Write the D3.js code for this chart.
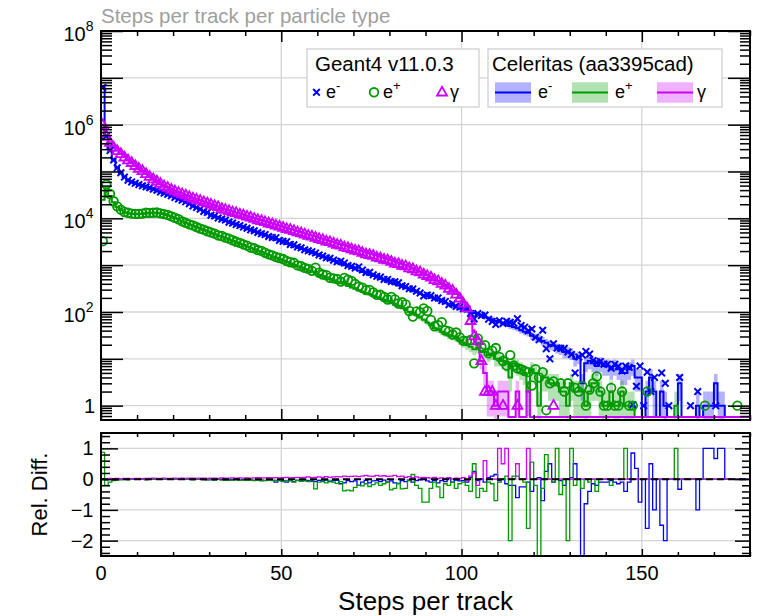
<!DOCTYPE html>
<html>
<head>
<meta charset="utf-8">
<script src="https://cdn.jsdelivr.net/npm/d3@7"></script>
<style>
  body { margin: 0; background: #fff; }
  svg text { font-family: "Liberation Sans", Arial, Helvetica, sans-serif; fill: #000; }
</style>
</head>
<body>
<svg id="chart" width="765" height="616"></svg>
<script>
// bin i covers [i, i+1) steps per track
const nBins = 180

// Celeritas counts per bin
const celElectron = [
  6.3e6, 5.6e5, 2.8e5, 1.78e5, 1.2e5, 9.3e4, 7.6e4, 6.6e4, 6.0e4, 5.6e4,
  5.25e4, 5.0e4, 4.7e4, 4.45e4, 4.2e4, 4.0e4, 3.7e4, 3.45e4, 3.25e4, 3.0e4,
  2.8e4, 2.6e4, 2.4e4, 2.25e4, 2.05e4, 1.85e4, 1.7e4, 1.55e4, 1.4e4, 1.3e4,
  11700, 11000, 10200, 9550, 8900, 8300, 7770, 7270, 6800, 6370,
  5960, 5580, 5220, 4890, 4570, 4280, 4010, 3750, 3510, 3280,
  3070, 2880, 2690, 2520, 2360, 2210, 2070, 1930, 1810, 1690,
  1590, 1480, 1390, 1300, 1220, 1140, 1060, 997, 933, 873,
  817, 765, 716, 670, 627, 587, 549, 514, 481, 450,
  422, 395, 369, 346, 324, 303, 283, 265, 248, 232,
  218, 204, 191, 178, 167, 156, 146, 137, 128, 120,
  112, 106, 98, 95, 88, 84, 78, 74, 70, 64,
  62, 57, 55, 50, 48, 45, 41, 38, 36, 31,
  29, 27, 24, 22, 20, 19, 17, 16, 14, 14,
  13, 10, 11, 3, 8, 9, 8, 7, 8, 7,
  7, 6, 7, 6, 5, 5, 6, 7, 4, 4,
  0, 2, 4, 2, 0, 2, 1, 0, 0, 0,
  3, 0, 0, 0, 0, 1, 0, 1, 1, 1,
  3, 1, 1, 0, 0, 0, 0, 0, 0, 0
]
const celPositron = [
  2.5e4, 4.4e4, 3.0e4, 2.2e4, 1.75e4, 1.5e4, 1.35e4, 1.29e4, 1.26e4, 1.23e4,
  1.23e4, 1.26e4, 1.29e4, 1.32e4, 1.32e4, 1.32e4, 1.29e4, 1.23e4, 1.17e4, 1.10e4,
  10200, 9550, 8710, 7940, 7410, 6920, 6460, 6030, 5620, 5250,
  4900, 4570, 4270, 4070, 3800, 3550, 3310, 3090, 2880, 2690,
  2510, 2340, 2180, 2040, 1900, 1770, 1650, 1540, 1440, 1340,
  1250, 1170, 1090, 1020, 950, 886, 827, 771, 720, 671,
  626, 584, 545, 508, 474, 443, 413, 385, 359, 335,
  313, 291, 272, 255, 238, 222, 207, 194, 182, 168,
  155, 143, 132, 122, 112, 100, 94, 86, 76, 68,
  60, 52, 45, 42, 38, 35, 32, 30, 28, 25,
  22, 20, 18, 16, 17, 14, 14, 12, 13, 10,
  10, 9, 8, 4, 8, 7, 6, 5, 2, 6,
  5, 1, 4, 4, 3, 3, 3, 2, 2, 1,
  3, 2, 2, 2, 1, 2, 3, 3, 2, 1,
  1, 2, 1, 1, 2, 1, 1, 1, 0, 0,
  0, 0, 0, 0, 0, 0, 0, 0, 0, 1
]
const celGamma = [
  1.0e6, 5.6e5, 4.2e5, 3.3e5, 2.8e5, 2.4e5, 2.05e5, 1.78e5, 1.55e5, 1.35e5,
  1.18e5, 1.04e5, 9.1e4, 7.9e4, 7.1e4, 6.3e4, 5.6e4, 5.0e4, 4.6e4, 4.2e4,
  3.9e4, 3.6e4, 3.4e4, 3.16e4, 2.95e4, 2.75e4, 2.57e4, 2.45e4, 2.29e4, 2.14e4,
  20400, 19000, 17800, 16600, 15700, 14900, 14100, 13400, 12700, 12000,
  11400, 10800, 10200, 9680, 9180, 8700, 8250, 7820, 7410, 7030,
  6660, 6310, 5990, 5670, 5380, 5100, 4830, 4580, 4350, 4120,
  3900, 3700, 3510, 3330, 3150, 2990, 2830, 2690, 2550, 2410,
  2290, 2170, 2050, 1950, 1850, 1750, 1660, 1570, 1480, 1400,
  1320, 1240, 1160, 1090, 1010, 940, 870, 800, 735, 675,
  620, 565, 515, 465, 420, 375, 330, 290, 245, 200,
  160, 115, 72, 38, 20, 9, 5, 2, 2, 1,
  2, 2, 2, 0, 0, 2, 0, 0, 2, 0
]

// relative difference (Celeritas - Geant4) / Celeritas per bin
const diffElectron = [
  0.01, -0.02, 0, 0.01, 0, -0.01, 0, 0.01, 0, 0,
  0, 0.01, 0, -0.01, 0, 0, 0.01, 0, 0, -0.01,
  0, 0, -0.01, 0, 0, 0.01, 0, -0.01, 0, -0.02,
  0, -0.02, 0, -0.01, -0.03, 0, -0.02, -0.01, -0.03, -0.02,
  -0.03, -0.02, -0.04, -0.02, -0.03, -0.05, -0.02, -0.04, -0.1, -0.03,
  -0.05, -0.1, -0.03, -0.08, -0.04, -0.06, -0.03, -0.05, -0.07, -0.08,
  -0.04, -0.06, -0.03, -0.08, -0.05, -0.04, -0.15, -0.12, -0.05, -0.08,
  -0.06, -0.2, -0.1, -0.04, -0.12, -0.06, -0.05, -0.08, -0.03, -0.1,
  -0.06, -0.12, -0.14, -0.05, -0.08, -0.03, -0.1, -0.05, -0.02, 0.05,
  -0.06, -0.1, -0.04, -0.12, -0.05, -0.08, 0.02, -0.1, -0.03, -0.06,
  -0.05, -0.1, 0.05, 0.25, -0.05, 0, -0.1, 0.05, 0.1, 0.15,
  -0.05, 0, -0.15, -0.2, -0.2, -0.6, -0.25, -0.25, -0.1, -0.4,
  0, 0.05, -0.7, 0.25, 0.5, -0.1, 0, -0.05, -0.2, 0,
  0.05, 0.5, 0, -3, -0.8, -0.4, -0.15, -0.2, -0.1, -0.1,
  -0.1, -0.05, -0.1, -0.15, -0.1, -0.4, -0.1, 0.85, 0.35, -0.75,
  0, -1.6, 0.5, -1, 0, -1.5, -2, 0, 0, 0,
  -0.33, 0, 0, 0, 0, -1, 0, 1, 1, 1,
  0.67, 1, 1, 0, 0, 0, 0, 0, 0, 0
]
const diffPositron = [
  0.87, -0.2, -0.1, -0.05, -0.03, -0.02, -0.01, -0.02, 0, -0.01,
  -0.01, 0, -0.02, 0.01, 0, -0.01, 0.01, 0, -0.01, 0,
  -0.01, 0, 0.01, -0.01, 0, -0.02, -0.01, 0, -0.02, -0.01,
  -0.02, -0.03, -0.01, -0.03, -0.02, -0.04, -0.03, -0.02, -0.04, -0.03,
  -0.04, -0.02, -0.05, -0.03, -0.06, -0.04, -0.03, -0.05, -0.04, -0.06,
  -0.08, -0.05, -0.06, -0.1, -0.04, -0.07, -0.06, -0.08, -0.05, -0.32,
  -0.1, -0.08, -0.12, -0.06, -0.1, -0.14, -0.08, -0.38, -0.36, -0.38,
  -0.27, -0.2, -0.22, -0.15, -0.24, -0.18, -0.12, -0.2, -0.15, -0.1,
  -0.35, -0.3, -0.15, -0.32, -0.3, -0.05, 0.15, -0.2, -0.3, -0.75,
  -0.75, -0.3, -0.1, -0.25, -0.6, -0.15, -0.2, -0.1, -0.3, -0.15,
  -0.1, -0.2, -0.4, 0.5, -0.6, -0.3, -0.4, -0.1, -0.15, -0.7,
  -0.1, 0, 0.1, -2, 0.1, 0.1, 0, -0.1, -1.6, 0.55,
  -0.2, -3, -0.3, 0.8, 0, -0.1, 1, -0.5, 0, -2,
  1, -0.2, 0, -0.3, 0, -0.1, 0, -0.4, 0, 0,
  0, -0.2, 0, 0, 0, 1, 0, 0, 0, 0,
  0, 0, 0, 0, 0, 0, 0, 0, 0, 1
]
const diffGamma = [
  0.01, 0.01, 0.02, 0.01, 0.02, 0.01, 0.02, 0.02, 0.01, 0.02,
  0.02, 0.01, 0.02, 0.02, 0.03, 0.02, 0.02, 0.03, 0.02, 0.02,
  0.03, 0.02, 0.03, 0.02, 0.03, 0.03, 0.02, 0.03, 0.03, 0.02,
  0.03, 0.03, 0.02, 0.04, 0.03, 0.03, 0.04, 0.03, 0.04, 0.03,
  0.04, 0.03, 0.04, 0.05, 0.04, 0.04, 0.05, 0.04, 0.05, 0.04,
  0.05, 0.06, 0.04, 0.05, 0.06, 0.05, 0.06, 0.07, 0.05, 0.06,
  0.07, 0.06, 0.08, 0.06, 0.07, 0.08, 0.07, 0.1, 0.08, 0.09,
  0.1, 0.08, 0.1, 0.12, 0.1, 0.09, 0.12, 0.1, 0.11, 0.09,
  0.1, 0.12, 0.08, 0.1, 0.06, 0.08, 0.05, 0.07, 0.04, 0.06,
  0.05, 0.03, 0.06, 0.02, 0.04, 0.02, 0.05, 0.01, 0.03, 0.02,
  0.05, -0.05, 0.1, 0.2, -0.2, 0, 0.6, 0, 0, 0,
  1, 0.5, 1, 0, 0, 0.5, 0, 0, 1, 0
]

// Geant4 bins where Celeritas is empty: [bin, count]
const g4OnlyElectron = [[150, 1], [157, 1], [163, 1]]
const g4OnlyPositron = [[151, 2], [167, 1], [176, 1]]
const g4OnlyGamma = [[125, 1]]

const xTicksMajor = [0, 50, 100, 150]
const yTopLabels = [0, 2, 4, 6, 8]
const yBotTicks = [-2, -1, 0, 1]

const series = [
  { name: 'e', sup: '-', color: '#0000ff', fill: 'rgba(0,0,255,0.3)', cel: celElectron, diff: diffElectron, only: g4OnlyElectron, marker: 'cross' },
  { name: 'e', sup: '+', color: '#009a00', fill: 'rgba(0,154,0,0.3)', cel: celPositron, diff: diffPositron, only: g4OnlyPositron, marker: 'circle' },
  { name: 'γ', sup: '', color: '#cc00ff', fill: 'rgba(204,0,255,0.3)', cel: celGamma, diff: diffGamma, only: g4OnlyGamma, marker: 'triangle' }
]

const svg = d3.select('#chart')
const L = 101, R = 750, T = 31, B = 420, T2 = 433, B2 = 556

const x = d3.scaleLinear().domain([0, nBins]).range([L, R])
const y = d3.scaleLog().domain([0.494, 1e8]).range([B, T])
const yr = d3.scaleLinear().domain([-2.5, 1.5]).range([B2, T2])
const zeroY = B - 3

const defs = svg.append('defs')
defs.append('clipPath').attr('id', 'clipTop').append('rect')
  .attr('x', L).attr('y', T).attr('width', R - L).attr('height', B - T)
defs.append('clipPath').attr('id', 'clipBot').append('rect')
  .attr('x', L).attr('y', T2).attr('width', R - L).attr('height', B2 - T2)

const cel = (s, i) => (i < s.cel.length ? s.cel[i] : 0)
const dif = (s, i) => (i < s.diff.length ? s.diff[i] : 0)
const bins = d3.range(nBins)

// ---------- grid ----------
const grid = svg.append('g').attr('stroke', '#d4d4d4').attr('stroke-width', 1.3)
d3.range(0, 8).forEach(k => {
  grid.append('line').attr('x1', L).attr('x2', R).attr('y1', y(10 ** k)).attr('y2', y(10 ** k))
})
yBotTicks.forEach(v => {
  grid.append('line').attr('x1', L).attr('x2', R).attr('y1', yr(v)).attr('y2', yr(v))
})
xTicksMajor.slice(1).forEach(v => {
  grid.append('line').attr('x1', x(v)).attr('x2', x(v)).attr('y1', T).attr('y2', B)
  grid.append('line').attr('x1', x(v)).attr('x2', x(v)).attr('y1', T2).attr('y2', B2)
})

// ---------- top panel ----------
const topG = svg.append('g').attr('clip-path', 'url(#clipTop)')

series.forEach(s => {
  // statistical error band
  topG.append('g').selectAll('rect')
    .data(bins.filter(i => cel(s, i) > 0))
    .enter().append('rect')
    .attr('x', i => x(i)).attr('width', i => x(i + 1) - x(i))
    .attr('y', i => y(cel(s, i) + Math.sqrt(cel(s, i))))
    .attr('height', i => {
      const lo = cel(s, i) - Math.sqrt(cel(s, i))
      return (lo > 0 ? y(lo) : B + 2) - y(cel(s, i) + Math.sqrt(cel(s, i)))
    })
    .attr('fill', s.fill)
})

series.forEach(s => {
  const yy = i => (cel(s, i) > 0 ? y(cel(s, i)) : zeroY)
  let d = `M${x(0)},${zeroY}`
  bins.forEach(i => { d += `V${yy(i)}H${x(i + 1)}` })
  d += `V${zeroY}`
  topG.append('path').attr('d', d).attr('fill', 'none')
    .attr('stroke', s.color).attr('stroke-width', 2)
})

function drawMarker(g, type, color) {
  if (type === 'cross') {
    g.append('path').attr('d', 'M-3.3,-3.3L3.3,3.3M-3.3,3.3L3.3,-3.3')
      .attr('stroke', color).attr('stroke-width', 2).attr('fill', 'none')
  } else if (type === 'circle') {
    g.append('circle').attr('r', 4.3)
      .attr('stroke', color).attr('stroke-width', 1.8).attr('fill', 'none')
  } else {
    g.append('path').attr('d', 'M0,-5.6L5,3.2L-5,3.2Z')
      .attr('stroke', color).attr('stroke-width', 1.8).attr('fill', 'none')
  }
}

series.forEach(s => {
  const pts = bins
    .filter(i => cel(s, i) > 0)
    .map(i => [i, cel(s, i) * (1 - dif(s, i))])
    .filter(p => p[1] > 0)
    .concat(s.only)
  const mg = topG.append('g')
  pts.forEach(p => {
    const g = mg.append('g').attr('transform', `translate(${x(p[0] + 0.5)},${y(p[1])})`)
    drawMarker(g, s.marker, s.color)
  })
})

// ---------- bottom panel ----------
const botG = svg.append('g').attr('clip-path', 'url(#clipBot)')
series.forEach(s => {
  let d = `M${x(0)},${yr(0)}`
  bins.forEach(i => { d += `V${yr(dif(s, i))}H${x(i + 1)}` })
  botG.append('path').attr('d', d).attr('fill', 'none')
    .attr('stroke', s.color).attr('stroke-width', 1.3)
})
botG.append('line').attr('x1', L).attr('x2', R).attr('y1', yr(0)).attr('y2', yr(0))
  .attr('stroke', '#000').attr('stroke-width', 2).attr('stroke-dasharray', '7,4')

// ---------- axes / ticks ----------
function tickAxis(axis, tx, ty) {
  const g = svg.append('g').attr('transform', `translate(${tx},${ty})`).call(axis)
  g.select('.domain').remove()
  g.selectAll('.tick line').attr('stroke', '#000').attr('stroke-width', 1.5)
  g.selectAll('.tick text').remove()
  return g
}

const yMajor = d3.range(0, 9).map(k => 10 ** k)
const yMinor = []
d3.range(-1, 8).forEach(k => d3.range(2, 10).forEach(m => {
  const v = m * 10 ** k
  if (v >= 0.494 && v <= 1e8) yMinor.push(v)
}))
const xMinor = d3.range(0, nBins + 1, 10).filter(v => v % 50 !== 0)
const yrMinor = d3.range(-12, 8).filter(k => k % 5 !== 0).map(k => k / 5)

tickAxis(d3.axisLeft(y).tickValues(yMajor).tickSize(-22), L, 0)
tickAxis(d3.axisLeft(y).tickValues(yMinor).tickSize(-11), L, 0)
tickAxis(d3.axisRight(y).tickValues(yMajor).tickSize(-22), R, 0)
tickAxis(d3.axisRight(y).tickValues(yMinor).tickSize(-10), R, 0)
tickAxis(d3.axisBottom(x).tickValues(xTicksMajor).tickSize(-11), 0, B)
tickAxis(d3.axisBottom(x).tickValues(xMinor).tickSize(-5), 0, B)
tickAxis(d3.axisTop(x).tickValues(xTicksMajor).tickSize(-11), 0, T)
tickAxis(d3.axisTop(x).tickValues(xMinor).tickSize(-5), 0, T)

tickAxis(d3.axisLeft(yr).tickValues(yBotTicks).tickSize(-17), L, 0)
tickAxis(d3.axisLeft(yr).tickValues(yrMinor).tickSize(-9), L, 0)
tickAxis(d3.axisRight(yr).tickValues(yBotTicks).tickSize(-15), R, 0)
tickAxis(d3.axisRight(yr).tickValues(yrMinor).tickSize(-8), R, 0)
tickAxis(d3.axisBottom(x).tickValues(xTicksMajor).tickSize(-7), 0, B2)
tickAxis(d3.axisBottom(x).tickValues(xMinor).tickSize(-4), 0, B2)
tickAxis(d3.axisTop(x).tickValues(xTicksMajor).tickSize(-7), 0, T2)
tickAxis(d3.axisTop(x).tickValues(xMinor).tickSize(-4), 0, T2)

// frames
svg.append('rect').attr('x', L).attr('y', T).attr('width', R - L).attr('height', B - T)
  .attr('fill', 'none').attr('stroke', '#000').attr('stroke-width', 2)
svg.append('rect').attr('x', L).attr('y', T2).attr('width', R - L).attr('height', B2 - T2)
  .attr('fill', 'none').attr('stroke', '#000').attr('stroke-width', 2)

// tick labels
yTopLabels.forEach(k => {
  if (k === 0) {
    svg.append('text').attr('x', 95).attr('y', y(1) + 7.5).attr('text-anchor', 'end')
      .attr('font-size', 20).text('1')
  } else {
    const t = svg.append('text').attr('x', 93.5).attr('y', y(10 ** k) + 10)
      .attr('text-anchor', 'end').attr('font-size', 20)
    t.append('tspan').text('10')
    t.append('tspan').attr('dy', -10).attr('font-size', 14).text(k)
  }
})
yBotTicks.forEach(v => {
  svg.append('text').attr('x', 93.5).attr('y', yr(v) + 7).attr('text-anchor', 'end')
    .attr('font-size', 20).text(v < 0 ? '\u2212' + Math.abs(v) : v)
})
xTicksMajor.forEach(v => {
  svg.append('text').attr('x', x(v)).attr('y', 580).attr('text-anchor', 'middle')
    .attr('font-size', 20).text(v)
})

svg.append('text').attr('x', (L + R) / 2).attr('y', 610).attr('text-anchor', 'middle')
  .attr('font-size', 26).text('Steps per track')
svg.append('text').attr('transform', `translate(47,${(T2 + B2) / 2}) rotate(-90)`)
  .attr('text-anchor', 'middle').attr('font-size', 22).text('Rel. Diff.')
svg.append('text').attr('x', 101).attr('y', 22.5).attr('font-size', 20.5)
  .style('fill', '#a0a0a0').text('Steps per track per particle type')

// ---------- legends ----------
const leg1 = svg.append('g')
leg1.append('rect').attr('x', 307).attr('y', 49).attr('width', 172).attr('height', 58)
  .attr('fill', '#fff').attr('stroke', '#cfcfcf').attr('stroke-width', 1.3)
leg1.append('text').attr('x', 315).attr('y', 71).attr('font-size', 20.5).text('Geant4 v11.0.3')

const leg2 = svg.append('g')
leg2.append('rect').attr('x', 488).attr('y', 49).attr('width', 234).attr('height', 58)
  .attr('fill', '#fff').attr('stroke', '#cfcfcf').attr('stroke-width', 1.3)
leg2.append('text').attr('x', 492).attr('y', 71).attr('font-size', 20.5).text('Celeritas (aa3395cad)')

function legendLabel(g, lx, s) {
  const t = g.append('text').attr('x', lx).attr('y', 97.5).attr('font-size', 18)
  t.append('tspan').text(s.name)
  if (s.sup) t.append('tspan').attr('dy', -8).attr('font-size', 13).text(s.sup)
}

const leg1X = [316.5, 374, 442]
const leg1Text = [326, 383, 450]
series.forEach((s, i) => {
  const g = leg1.append('g').attr('transform', `translate(${leg1X[i]},92.3)`)
  drawMarker(g, s.marker, s.color)
  legendLabel(leg1, leg1Text[i], s)
})

const leg2X = [495, 572, 657]
const leg2Text = [538, 615, 697]
series.forEach((s, i) => {
  leg2.append('rect').attr('x', leg2X[i]).attr('y', 82.3).attr('width', 36).attr('height', 20.4)
    .attr('fill', s.fill)
  leg2.append('line').attr('x1', leg2X[i]).attr('x2', leg2X[i] + 36).attr('y1', 92.5).attr('y2', 92.5)
    .attr('stroke', s.color).attr('stroke-width', 2)
  legendLabel(leg2, leg2Text[i], s)
})
</script>
</body>
</html>
